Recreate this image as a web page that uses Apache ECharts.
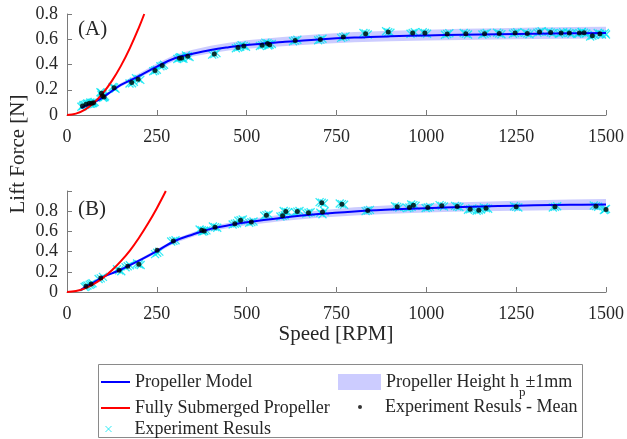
<!DOCTYPE html>
<html><head><meta charset="utf-8">
<script src="https://cdn.jsdelivr.net/npm/echarts/dist/echarts.min.js"></script>
<style>html,body{margin:0;padding:0;background:#fff}#c{width:627px;height:439px}</style>
</head><body><div id="c"></div>
<script>
// ---------- data ----------
const xTicks = [0, 250, 500, 750, 1000, 1250, 1500];
const yTicksA = [0, 0.2, 0.4, 0.6, 0.8];
const yTicksB = [0, 0.2, 0.4, 0.6, 0.8];

// Panel (A)
const modelRpmA = [40,50,75,100,125,150,200,250,300,350,400,450,500,600,700,800,900,1000,1100,1200,1300,1400,1500];
const modelA    = [0.055,0.070,0.100,0.140,0.190,0.238,0.308,0.383,0.450,0.485,0.515,0.537,0.555,0.578,0.598,0.613,0.623,0.630,0.636,0.640,0.644,0.647,0.650];
const lowA      = [0.051,0.065,0.094,0.132,0.180,0.226,0.293,0.365,0.430,0.463,0.490,0.510,0.525,0.545,0.563,0.576,0.584,0.590,0.595,0.598,0.601,0.603,0.605];
const highA     = [0.060,0.076,0.108,0.150,0.203,0.254,0.328,0.407,0.478,0.516,0.549,0.573,0.593,0.618,0.640,0.657,0.668,0.676,0.683,0.688,0.693,0.697,0.700];
const subRpmA   = [0,25,50,75,100,125,150,175,200,215];
const subA      = [0,0.011,0.043,0.097,0.173,0.270,0.389,0.530,0.692,0.800];
const meanA = [[43,0.072],[53,0.085],[62,0.093],[69,0.093],[74,0.098],[96,0.172],[99,0.151],[103,0.143],[131,0.215],[180,0.257],[198,0.284],[245,0.352],[265,0.392],[313,0.450],[319,0.451],[336,0.465],[410,0.484],[476,0.535],[492,0.546],[543,0.553],[558,0.567],[564,0.556],[635,0.590],[705,0.598],[769,0.617],[831,0.644],[894,0.657],[962,0.650],[996,0.649],[1058,0.641],[1110,0.644],[1162,0.644],[1203,0.646],[1247,0.649],[1281,0.646],[1315,0.657],[1346,0.654],[1375,0.649],[1398,0.649],[1426,0.649],[1439,0.652],[1462,0.628],[1483,0.644]];
const trialsA = [[40,0.066],[46,0.079],[44,0.070],[50,0.080],[56,0.091],[54,0.084],[59,0.088],[65,0.099],[63,0.090],[66,0.089],[72,0.098],[70,0.095],[71,0.092],[77,0.104],[75,0.100],
[93,0.180],[99,0.165],[96,0.176],[96,0.158],[102,0.145],[99,0.150],[100,0.136],[106,0.149],[104,0.140],[127,0.222],[135,0.208],[131,0.218],
[174,0.250],[186,0.264],[181,0.252],[192,0.291],[204,0.278],[199,0.286],[240,0.346],[250,0.358],[245,0.352],[260,0.386],[270,0.398],[266,0.390],
[307,0.444],[318,0.456],[312,0.452],[315,0.458],[324,0.446],[320,0.450],[331,0.471],[341,0.459],[336,0.466],[404,0.478],[416,0.490],[410,0.482],
[470,0.529],[482,0.541],[476,0.534],[486,0.552],[498,0.540],[492,0.547],[537,0.547],[549,0.559],[543,0.552],[552,0.573],[562,0.561],[558,0.568],
[560,0.550],[570,0.562],[564,0.556],[629,0.584],[641,0.596],[635,0.590],[699,0.592],[711,0.604],[705,0.597],[763,0.611],[775,0.623],[769,0.618],
[825,0.650],[837,0.638],[831,0.645],[888,0.663],[900,0.651],[894,0.656],[956,0.644],[968,0.656],[962,0.650],[990,0.655],[1002,0.643],[996,0.649],
[1052,0.635],[1064,0.647],[1058,0.641],[1104,0.650],[1116,0.638],[1110,0.644],[1156,0.638],[1168,0.650],[1162,0.644],[1197,0.652],[1209,0.640],[1203,0.646],
[1241,0.643],[1253,0.655],[1247,0.649],[1275,0.652],[1287,0.640],[1281,0.646],[1309,0.651],[1321,0.663],[1315,0.657],[1340,0.660],[1352,0.648],[1346,0.654],
[1369,0.643],[1381,0.655],[1375,0.649],[1392,0.655],[1404,0.643],[1398,0.649],[1420,0.643],[1432,0.655],[1426,0.649],[1433,0.658],[1445,0.646],[1439,0.652],
[1456,0.622],[1468,0.634],[1462,0.628],[1477,0.650],[1489,0.638],[1483,0.644],[1497,0.650],[1500,0.638]];

// Panel (B)
const modelRpmB = [36,50,75,100,125,150,200,250,300,350,400,450,500,600,700,800,900,1000,1100,1200,1300,1400,1500];
const modelB    = [0.015,0.045,0.095,0.148,0.185,0.222,0.310,0.405,0.505,0.570,0.625,0.660,0.690,0.735,0.772,0.798,0.816,0.830,0.842,0.851,0.858,0.863,0.867];
const lowB      = [0.012,0.041,0.089,0.140,0.175,0.210,0.295,0.387,0.485,0.548,0.601,0.634,0.662,0.703,0.736,0.758,0.774,0.786,0.796,0.803,0.808,0.811,0.813];
const highB     = [0.018,0.049,0.101,0.156,0.195,0.234,0.325,0.423,0.525,0.592,0.649,0.686,0.718,0.767,0.808,0.838,0.858,0.874,0.888,0.899,0.908,0.915,0.921];
const subRpmB   = [0,25,50,75,100,125,150,175,200,225,250,275];
const subB      = [0,0.009,0.036,0.080,0.140,0.215,0.305,0.410,0.535,0.675,0.830,1.000];
const meanB = [[53,0.057],[67,0.079],[94,0.139],[145,0.215],[169,0.255],[200,0.275],[251,0.414],[296,0.506],[375,0.612],[382,0.604],[412,0.642],[467,0.675],[483,0.711],[513,0.692],[555,0.761],[600,0.754],[609,0.796],[641,0.796],[672,0.784],[709,0.883],[711,0.792],[765,0.870],[837,0.807],[919,0.843],[953,0.837],[964,0.860],[1004,0.837],[1043,0.853],[1086,0.847],[1122,0.820],[1146,0.810],[1166,0.830],[1250,0.843],[1358,0.843],[1472,0.850],[1500,0.817]];
const trialsB = [[49,0.050],[57,0.064],[53,0.057],[63,0.072],[71,0.086],[67,0.079],[88,0.128],[100,0.150],[94,0.135],[139,0.225],[151,0.205],[145,0.215],
[163,0.245],[175,0.265],[169,0.255],[195,0.282],[205,0.268],[200,0.275],[245,0.375],[257,0.400],[251,0.388],[290,0.500],[302,0.512],[296,0.506],
[369,0.618],[381,0.606],[375,0.612],[377,0.598],[388,0.610],[382,0.604],[406,0.648],[418,0.636],[412,0.642],[461,0.669],[473,0.681],[467,0.675],
[477,0.705],[489,0.717],[483,0.711],[507,0.686],[519,0.698],[513,0.692],[549,0.755],[561,0.767],[555,0.761],[594,0.748],[606,0.760],[600,0.754],
[603,0.802],[615,0.790],[609,0.796],[635,0.790],[647,0.802],[641,0.796],[666,0.778],[678,0.790],[672,0.784],[703,0.890],[715,0.876],[709,0.883],
[705,0.785],[717,0.799],[711,0.770],[759,0.876],[771,0.864],[765,0.870],[831,0.801],[843,0.813],[837,0.807],[913,0.849],[925,0.837],[919,0.843],
[947,0.831],[959,0.843],[953,0.837],[958,0.866],[970,0.854],[964,0.860],[998,0.831],[1010,0.843],[1004,0.837],[1037,0.860],[1049,0.846],[1043,0.853],
[1080,0.853],[1092,0.841],[1086,0.847],[1116,0.814],[1128,0.826],[1122,0.820],[1140,0.804],[1152,0.816],[1146,0.810],[1160,0.836],[1172,0.824],[1166,0.830],
[1244,0.849],[1256,0.837],[1250,0.843],[1352,0.837],[1364,0.849],[1358,0.843],[1466,0.856],[1478,0.844],[1472,0.850],[1494,0.811],[1500,0.823],[1497,0.817]];

// ---------- chart ----------
const FONT = '"Liberation Serif", "Times New Roman", serif';
const TXT = '#262626';
const AX = '#7a7a7a';
const N_MODEL = 'Propeller Model';
const N_SUB = 'Fully Submerged Propeller';
const N_TRIAL = 'Experiment Resuls';
const N_BAND = 'Propeller Height hp ±1mm';
const N_MEAN = 'Experiment Resuls - Mean';
const BAND_COLOR = 'rgba(0,0,255,0.2)';
const CYAN = '#00e6f2';
const XSYM = 'path://M0,0L10,10M10,0L0,10';

const pairs = (xs, ys) => xs.map((x, i) => [x, ys[i]]);

function bandSeries(idx, xs, lo, hi) {
  return {
    type: 'custom', name: N_BAND, xAxisIndex: idx, yAxisIndex: idx, z: 1, silent: true,
    itemStyle: { color: BAND_COLOR },
    data: xs.map((x, i) => [x, lo[i], hi[i]]),
    encode: { x: 0, y: [1, 2] },
    renderItem: function (params, api) {
      if (params.dataIndex !== 0) return null;
      const pts = [];
      for (let i = 0; i < xs.length; i++) pts.push(api.coord([xs[i], hi[i]]));
      for (let i = xs.length - 1; i >= 0; i--) pts.push(api.coord([xs[i], lo[i]]));
      return { type: 'polygon', shape: { points: pts }, style: { fill: BAND_COLOR, stroke: null } };
    }
  };
}
function lineSeries(idx, name, xs, ys, color, z) {
  return { type: 'line', name, xAxisIndex: idx, yAxisIndex: idx, data: pairs(xs, ys), smooth: 0.4,
    symbol: 'none', showSymbol: false, z, color, lineStyle: { color, width: 2 }, silent: true };
}
function trialSeries(idx, data) {
  return { type: 'scatter', name: N_TRIAL, xAxisIndex: idx, yAxisIndex: idx, data, z: 2, symbol: XSYM, symbolSize: 8,
    itemStyle: { color: 'rgba(0,0,0,0)', borderColor: CYAN, borderWidth: 1.3 }, silent: true };
}
function meanSeries(idx, data) {
  return { type: 'scatter', name: N_MEAN, xAxisIndex: idx, yAxisIndex: idx, data, z: 5, symbol: 'circle', symbolSize: 5,
    itemStyle: { color: '#000' }, silent: true };
}
function xAxis(idx) {
  return { type: 'value', gridIndex: idx, min: 0, max: 1500, interval: 250,
    axisLine: { show: true, onZero: false, lineStyle: { color: AX, width: 1 } },
    axisTick: { show: true, inside: true, length: 5, lineStyle: { color: AX } },
    axisLabel: { fontFamily: FONT, fontSize: 18, color: TXT, margin: 13,
      formatter: v => (xTicks.indexOf(v) >= 0 ? String(v) : '') },
    splitLine: { show: false } };
}
function yAxis(idx, max, ticks) {
  return { type: 'value', gridIndex: idx, min: 0, max, interval: 0.2,
    axisLine: { show: true, lineStyle: { color: AX, width: 1 } },
    axisTick: { show: true, inside: true, length: 5, lineStyle: { color: AX } },
    axisLabel: { fontFamily: FONT, fontSize: 18, color: TXT, margin: 9,
      formatter: v => (ticks.some(t => Math.abs(t - v) < 1e-9) ? String(+v.toFixed(1)) : '') },
    splitLine: { show: false } };
}
function legendItem(name, left, top, w, h, icon, extra) {
  return Object.assign({
    show: true, left, top, padding: 0, orient: 'vertical', selectedMode: false,
    itemWidth: w, itemHeight: h,
    data: [{ name, icon }],
    textStyle: { fontFamily: FONT, fontSize: 18, color: TXT }
  }, extra || {});
}

const option = {
  animation: false,
  backgroundColor: '#fff',
  grid: [
    { left: 67, right: 21, top: 14, height: 101 },
    { left: 67, right: 21, top: 191, height: 101 }
  ],
  xAxis: [xAxis(0), xAxis(1)],
  yAxis: [yAxis(0, 0.8, yTicksA), yAxis(1, 1.0, yTicksB)],
  legend: [
    legendItem(N_MODEL, 101, 373, 29, 2, 'rect'),
    legendItem(N_SUB, 101, 399, 29, 2, 'rect'),
    legendItem(N_TRIAL, 105, 420, 6, 6, XSYM, {
      itemStyle: { color: 'rgba(0,0,0,0)', borderColor: CYAN, borderWidth: 1 },
      textStyle: { fontFamily: FONT, fontSize: 18, color: TXT, padding: [0, 0, 0, 18] } }),
    legendItem(N_BAND, 338, 373, 43, 16, 'rect', {
      formatter: () => '{a|Propeller Height h}{s|p}{a|±1mm}',
      textStyle: { fontFamily: FONT, fontSize: 18, color: TXT,
        rich: { a: { fontFamily: FONT, fontSize: 18, color: TXT },
                s: { fontFamily: FONT, fontSize: 13, color: TXT, padding: [22, 0, 0, 0] } } } }),
    legendItem(N_MEAN, 358, 398, 4, 4, 'circle', {
      textStyle: { fontFamily: FONT, fontSize: 18, color: TXT, padding: [0, 0, 0, 18] } })
  ],
  series: [
    bandSeries(0, modelRpmA, lowA, highA),
    trialSeries(0, trialsA),
    lineSeries(0, N_MODEL, modelRpmA, modelA, '#0000ff', 3),
    lineSeries(0, N_SUB, subRpmA, subA, '#ff0000', 4),
    meanSeries(0, meanA),
    bandSeries(1, modelRpmB, lowB, highB),
    trialSeries(1, trialsB),
    lineSeries(1, N_MODEL, modelRpmB, modelB, '#0000ff', 3),
    lineSeries(1, N_SUB, subRpmB, subB, '#ff0000', 4),
    meanSeries(1, meanB)
  ],
  graphic: [
    { type: 'text', left: 78, top: 19, style: { text: '(A)', font: '21px ' + FONT, fill: TXT } },
    { type: 'text', left: 78, top: 199, style: { text: '(B)', font: '21px ' + FONT, fill: TXT } },
    { type: 'text', x: 18, y: 154, rotation: Math.PI / 2,
      style: { text: 'Lift Force [N]', font: '21px ' + FONT, fill: TXT, align: 'center', verticalAlign: 'middle' } },
    { type: 'text', x: 336, y: 334,
      style: { text: 'Speed [RPM]', font: '21px ' + FONT, fill: TXT, align: 'center', verticalAlign: 'middle' } },
    { type: 'rect', z: -1, shape: { x: 98.5, y: 364.5, width: 484, height: 73 },
      style: { fill: '#fff', stroke: '#8a8a8a', lineWidth: 1 } }
  ]
};
const chart = echarts.init(document.getElementById('c'), null, { renderer: 'canvas' });
chart.setOption(option);
</script>
</body></html>
